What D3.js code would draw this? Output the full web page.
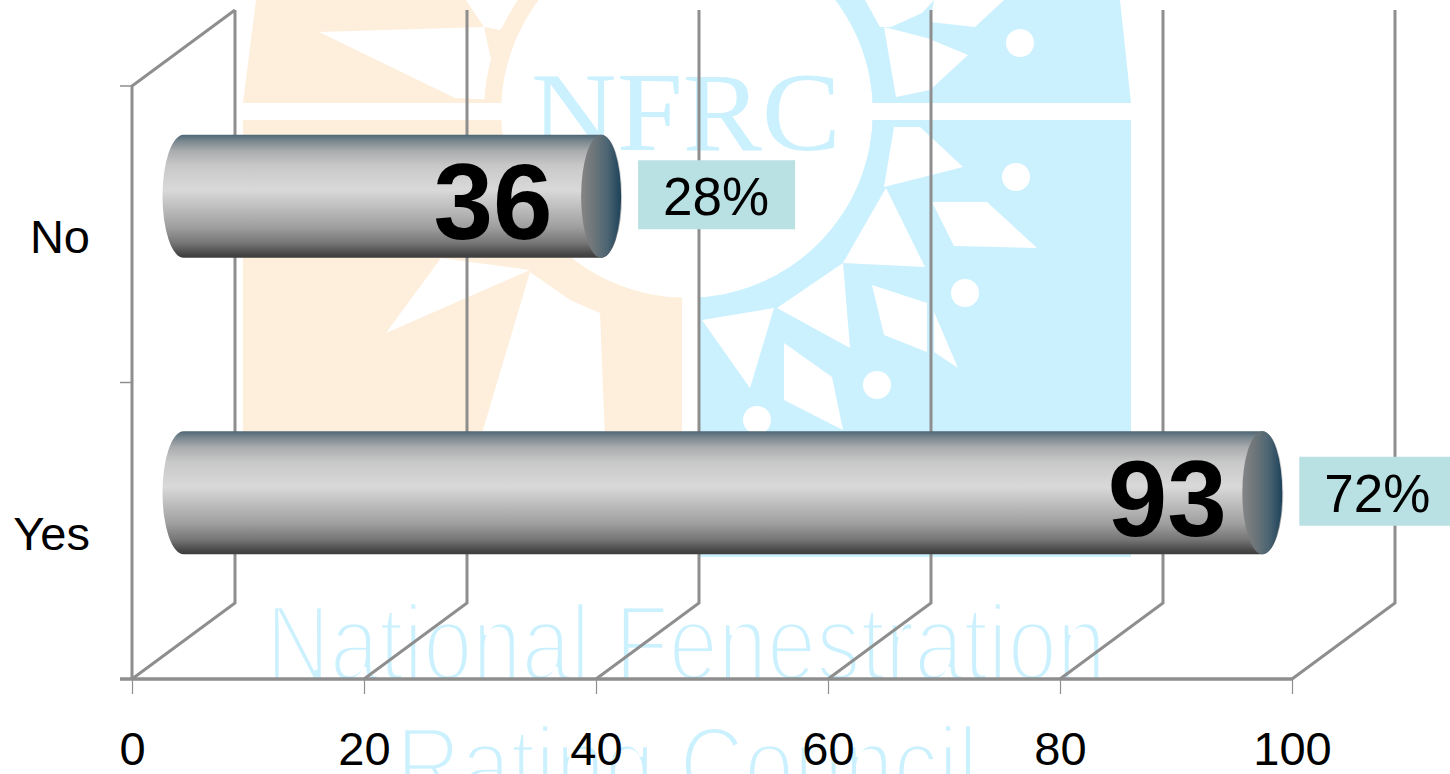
<!DOCTYPE html>
<html><head><meta charset="utf-8">
<script src="https://cdn.jsdelivr.net/npm/d3@7/dist/d3.min.js"></script>
<style>html,body{margin:0;padding:0;background:#fff;overflow:hidden}svg{display:block}</style>
</head><body><svg id="c" width="1450" height="774"></svg>
<script>
const categories = ["No", "Yes"];
const counts = [36, 93];
const shares = ["28%", "72%"];
const xTicks = [0, 20, 40, 60, 80, 100];
const watermarkWords = ["NFRC", "National Fenestration", "Rating Council"];

const svg = d3.select("#c");
const depthX = 103, depthY = 76;
const x = d3.scaleLinear().domain([0, 100]).range([132, 1292]);
const y = d3.scaleBand().domain(categories).range([86, 679]);
const defs = svg.append("defs");

// bar gradients
const body = defs.append("linearGradient").attr("id", "body").attr("x1", 0).attr("y1", 0).attr("x2", 0).attr("y2", 1);
[[0, "#4f6675"], [0.05, "#78868e"], [0.13, "#a9acae"], [0.25, "#c8c8c8"], [0.45, "#d9d9d9"], [0.58, "#c0c0c0"], [0.75, "#9f9f9f"], [0.88, "#767676"], [0.97, "#474747"], [1, "#3c3c3c"]]
  .forEach(s => body.append("stop").attr("offset", s[0]).attr("stop-color", s[1]));
const cap = defs.append("linearGradient").attr("id", "cap");
[[0, "#858585"], [0.3, "#6f7679"], [0.65, "#4d6573"], [1, "#1d4259"]]
  .forEach(s => cap.append("stop").attr("offset", s[0]).attr("stop-color", s[1]));

// watermark
const orange = "#FEEFDC", blue = "#CCF1FE";
const mark = svg.append("g");
mark.append("path").attr("fill", orange).attr("d", "M256,0L243,103L243,440L682,440L682,0Z");
mark.append("path").attr("fill", blue).attr("d", "M698,0L1120,0L1131,103L1131,557L698,557Z");
const rays = [
  [[319,32],[484,27],[500,100],[455,98]],
  [[466,0],[520,0],[500,30],[484,27]],
  [[386,333],[441,258],[530,270]],
  [[480,440],[530,272],[570,300],[600,313],[605,440]],
  [[865,0],[934,0],[922,13],[891,27],[880,27]],
  [[934,0],[1004,0],[975,27],[930,22]],
  [[884,27],[927,38],[968,55],[930,90],[896,97]],
  [[894,127],[920,127],[963,167],[884,187]],
  [[932,202],[987,202],[1037,248],[954,246]],
  [[886,188],[925,267],[843,263]],
  [[872,285],[927,303],[927,352],[884,335]],
  [[934,312],[958,368],[934,352]],
  [[777,308],[843,263],[850,348]],
  [[702,320],[774,308],[750,388]],
  [[784,343],[832,377],[843,430],[784,400]]
];
mark.selectAll(".ray").data(rays).join("polygon").attr("fill", "#fff")
  .attr("points", d => d.map(p => p.join(",")).join(" "));
const dots = [[1020,43],[1016,177],[965,293],[877,385],[757,420]];
mark.selectAll(".dot").data(dots).join("circle").attr("fill", "#fff")
  .attr("cx", d => d[0]).attr("cy", d => d[1]).attr("r", 14);
const ringArc = d3.arc().innerRadius(186).outerRadius(203);
const ring = mark.append("g").attr("transform", "translate(687,112)");
ring.append("circle").attr("r", 186).attr("fill", "#fff");
ring.append("path").attr("fill", blue).attr("d", ringArc({startAngle: 0, endAngle: Math.PI}));
ring.append("path").attr("fill", orange).attr("d", ringArc({startAngle: Math.PI, endAngle: 2 * Math.PI}));
mark.append("rect").attr("x", 682).attr("y", 290).attr("width", 16).attr("height", 150).attr("fill", "#fff");
mark.append("rect").attr("x", 243).attr("y", 103).attr("width", 890).attr("height", 17).attr("fill", "#fff");
const thin = (sel) => sel.attr("fill", blue).attr("stroke", "#fff").attr("stroke-width", 4.5).attr("paint-order", "fill").attr("font-family", "Liberation Sans").attr("font-size", 108).attr("lengthAdjust", "spacingAndGlyphs");
mark.append("text").text(watermarkWords[0]).attr("x", 531).attr("y", 150)
  .attr("textLength", 310).attr("lengthAdjust", "spacingAndGlyphs")
  .attr("font-family", "Liberation Serif").attr("font-size", 112).attr("fill", blue);
mark.append("text").text(watermarkWords[1]).attr("x", 266).attr("y", 680).attr("textLength", 840).call(thin);
mark.append("text").text(watermarkWords[2]).attr("x", 396).attr("y", 802).attr("textLength", 582).call(thin);

// 3-D grid walls
const grey = "#8e8e8e";
const grid = svg.append("g").attr("fill", "none").attr("stroke", grey).attr("stroke-width", 3);
const [yTop, yBase] = y.range();
grid.selectAll(".g").data(xTicks).join("path")
  .attr("d", d => `M${x(d)},${yBase}L${x(d) + depthX},${yBase - depthY}L${x(d) + depthX},${yTop - depthY}`);
grid.append("path").attr("d", `M${x(0)},${yBase}L${x(0)},${yTop}L${x(0) + depthX},${yTop - depthY}`);
grid.append("path").attr("stroke-width", 1.5)
  .attr("d", [yTop, yTop + y.step(), yBase].map(v => `M${x(0) - 12},${v}L${x(0)},${v}`).join(""));
svg.append("line").attr("x1", x(0) - 12).attr("x2", x(100)).attr("y1", yBase).attr("y2", yBase)
  .attr("stroke", grey).attr("stroke-width", 3.4);

// axes
const xAxis = svg.append("g").attr("transform", `translate(0,${yBase})`)
  .call(d3.axisBottom(x).tickValues(xTicks).tickSize(15).tickPadding(38).tickFormat(d3.format("d")));
xAxis.select(".domain").remove();
xAxis.selectAll("line").attr("stroke", grey).attr("stroke-width", 1.2);
xAxis.selectAll("text").attr("font-family", "Liberation Sans").attr("font-size", 47).attr("fill", "#000");
const yAxis = svg.append("g").attr("transform", "translate(90,0)")
  .call(d3.axisLeft(y).tickSize(0).tickPadding(0));
yAxis.select(".domain").remove();
yAxis.selectAll("text").attr("font-family", "Liberation Sans").attr("font-size", 47).attr("fill", "#000").attr("dy", "0.4em");

// cylinders
const barH = 123, rx = 21;
const rows = categories.map((c, i) => ({c, v: counts[i], s: shares[i]}));
const cy = d => y(d.c) + y.bandwidth() / 2 - depthY / 2;
const x0 = x(0) + depthX / 2;
const labelShift = d3.scaleLinear().domain(counts).range([-108, -95]);
const bars = svg.append("g").selectAll("g").data(rows).join("g");
bars.append("path").attr("fill", "url(#body)")
  .attr("d", d => {
    const t = cy(d) - barH / 2, b = cy(d) + barH / 2, e = x(d.v) + depthX / 2;
    return `M${x0},${t}L${e},${t}A${rx},${barH / 2} 0 0 1 ${e},${b}L${x0},${b}A${rx},${barH / 2} 0 0 1 ${x0},${t}Z`;
  });
bars.append("ellipse").attr("fill", "url(#cap)")
  .attr("cx", d => x(d.v) + depthX / 2).attr("cy", cy).attr("rx", rx - 1).attr("ry", barH / 2);
bars.append("text").text(d => d.v)
  .attr("x", d => x(d.v) + depthX / 2 + labelShift(d.v)).attr("y", d => cy(d) + 43)
  .attr("text-anchor", "middle").attr("font-family", "Liberation Sans").attr("font-weight", "bold")
  .attr("font-size", 107).attr("fill", "#000");
bars.append("rect").attr("x", d => x(d.v) + depthX / 2 + 37).attr("y", d => cy(d) - 36)
  .attr("width", 157).attr("height", 69).attr("fill", "#B9E0E3");
bars.append("text").text(d => d.s)
  .attr("x", d => x(d.v) + depthX / 2 + 37 + 78).attr("y", d => cy(d) + 19)
  .attr("text-anchor", "middle").attr("font-family", "Liberation Sans").attr("font-size", 53).attr("fill", "#000");
</script></body></html>
